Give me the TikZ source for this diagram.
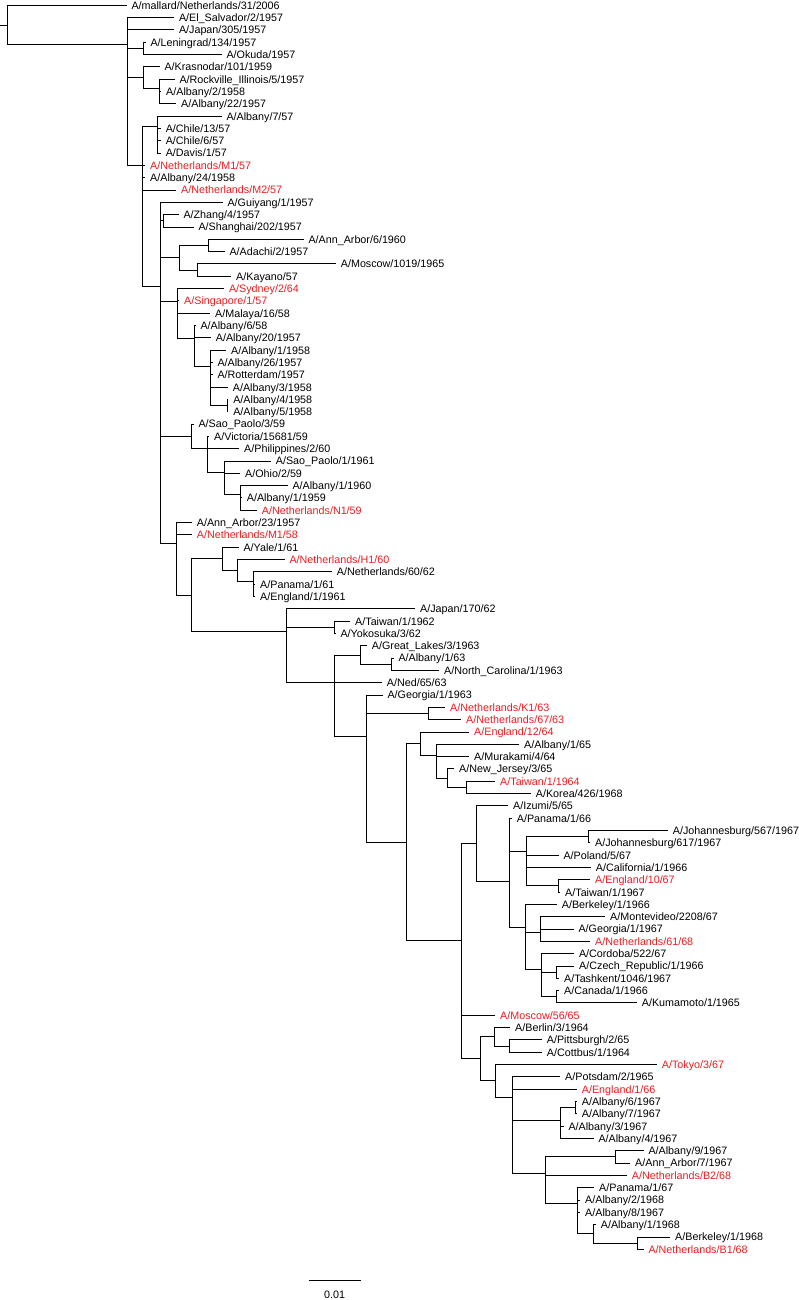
\documentclass[tikz,border=0pt]{standalone}
\usepackage{fontspec}
\setmainfont{Liberation Sans}
\definecolor{tred}{RGB}{232,30,34}
\newcommand{\tvb}[3]{\draw[br] (#1 |- #2) -- (#1 |- #3);}
\newcommand{\thi}[2]{\draw[br] (#1 |- #2) -- (#2);}
\newcommand{\thl}[2]{\draw[br] (#1 |- #2) -- (#2.west);}
\newcommand{\tpair}[3]{\tvb{#1}{#2}{#3}\thl{#1}{#2}\thl{#1}{#3}}
\begin{document}
\begin{tikzpicture}[x=1pt,y=-12.317pt,
  br/.style={line width=1pt,line cap=rect,black},
  lf/.style={anchor=west,inner xsep=5.3pt,inner ysep=0pt,text height=7.75pt,text depth=0pt,font=\fontsize{10.75}{12}\selectfont},
  rd/.style={text=tred}]
\useasboundingbox (0,0.5697) rectangle (799,106.115);
% leaves
\node[lf] (l1) at (126,1) {A/mallard/Netherlands/31/2006};
\node[lf] (l2) at (173.5,2) {A/El\_Salvador/2/1957};
\node[lf] (l3) at (173.5,3) {A/Japan/305/1957};
\node[lf] (l4) at (145,4) {A/Leningrad/134/1957};
\node[lf] (l5) at (221,5) {A/Okuda/1957};
\node[lf] (l6) at (159,6) {A/Krasnodar/101/1959};
\node[lf] (l7) at (174,7) {A/Rockville\_Illinois/5/1957};
\node[lf] (l8) at (160.7,8) {A/Albany/2/1958};
\node[lf] (l9) at (175.7,9) {A/Albany/22/1957};
\node[lf] (l10) at (221,10) {A/Albany/7/57};
\node[lf] (l11) at (160.3,11) {A/Chile/13/57};
\node[lf] (l12) at (160.3,12) {A/Chile/6/57};
\node[lf] (l13) at (160.3,13) {A/Davis/1/57};
\node[lf,rd] (l14) at (144.7,14) {A/Netherlands/M1/57};
\node[lf] (l15) at (144.7,15) {A/Albany/24/1958};
\node[lf,rd] (l16) at (175.7,16) {A/Netherlands/M2/57};
\node[lf] (l17) at (222,17) {A/Guiyang/1/1957};
\node[lf] (l18) at (178,18) {A/Zhang/4/1957};
\node[lf] (l19) at (193,19) {A/Shanghai/202/1957};
\node[lf] (l20) at (303,20) {A/Ann\_Arbor/6/1960};
\node[lf] (l21) at (224,21) {A/Adachi/2/1957};
\node[lf] (l22) at (335.4,22) {A/Moscow/1019/1965};
\node[lf] (l23) at (230.7,23) {A/Kayano/57};
\node[lf,rd] (l24) at (223.5,24) {A/Sydney/2/64};
\node[lf,rd] (l25) at (178.7,25) {A/Singapore/1/57};
\node[lf] (l26) at (209.7,26) {A/Malaya/16/58};
\node[lf] (l27) at (195,27) {A/Albany/6/58};
\node[lf] (l28) at (210.4,28) {A/Albany/20/1957};
\node[lf] (l29) at (225.7,29) {A/Albany/1/1958};
\node[lf] (l30) at (212,30) {A/Albany/26/1957};
\node[lf] (l31) at (212,31) {A/Rotterdam/1957};
\node[lf] (l32) at (227.4,32) {A/Albany/3/1958};
\node[lf] (l33) at (227.8,33) {A/Albany/4/1958};
\node[lf] (l34) at (227.8,34) {A/Albany/5/1958};
\node[lf] (l35) at (193,35) {A/Sao\_Paolo/3/59};
\node[lf] (l36) at (208.7,36) {A/Victoria/15681/59};
\node[lf] (l37) at (238.7,37) {A/Philippines/2/60};
\node[lf] (l38) at (270.4,38) {A/Sao\_Paolo/1/1961};
\node[lf] (l39) at (239.7,39) {A/Ohio/2/59};
\node[lf] (l40) at (287,40) {A/Albany/1/1960};
\node[lf] (l41) at (241.4,41) {A/Albany/1/1959};
\node[lf,rd] (l42) at (256.4,42) {A/Netherlands/N1/59};
\node[lf] (l43) at (191.4,43) {A/Ann\_Arbor/23/1957};
\node[lf,rd] (l44) at (191.4,44) {A/Netherlands/M1/58};
\node[lf] (l45) at (238,45) {A/Yale/1/61};
\node[lf,rd] (l46) at (284,46) {A/Netherlands/H1/60};
\node[lf] (l47) at (331.4,47) {A/Netherlands/60/62};
\node[lf] (l48) at (254.7,48) {A/Panama/1/61};
\node[lf] (l49) at (254.7,49) {A/England/1/1961};
\node[lf] (l50) at (414.7,50) {A/Japan/170/62};
\node[lf] (l51) at (349.7,51) {A/Taiwan/1/1962};
\node[lf] (l52) at (335,52) {A/Yokosuka/3/62};
\node[lf] (l53) at (366.4,53) {A/Great\_Lakes/3/1963};
\node[lf] (l54) at (393,54) {A/Albany/1/63};
\node[lf] (l55) at (438.7,55) {A/North\_Carolina/1/1963};
\node[lf] (l56) at (381.4,56) {A/Ned/65/63};
\node[lf] (l57) at (382,57) {A/Georgia/1/1963};
\node[lf,rd] (l58) at (444.7,58) {A/Netherlands/K1/63};
\node[lf,rd] (l59) at (460.7,59) {A/Netherlands/67/63};
\node[lf,rd] (l60) at (468.7,60) {A/England/12/64};
\node[lf] (l61) at (518.7,61) {A/Albany/1/65};
\node[lf] (l62) at (468.7,62) {A/Murakami/4/64};
\node[lf] (l63) at (453.7,63) {A/New\_Jersey/3/65};
\node[lf,rd] (l64) at (494.7,64) {A/Taiwan/1/1964};
\node[lf] (l65) at (530.4,65) {A/Korea/426/1968};
\node[lf] (l66) at (507.7,66) {A/Izumi/5/65};
\node[lf] (l67) at (511.4,67) {A/Panama/1/66};
\node[lf] (l68) at (667.4,68) {A/Johannesburg/567/1967};
\node[lf] (l69) at (589.7,69) {A/Johannesburg/617/1967};
\node[lf] (l70) at (558,70) {A/Poland/5/67};
\node[lf] (l71) at (590.4,71) {A/California/1/1966};
\node[lf,rd] (l72) at (589.7,72) {A/England/10/67};
\node[lf] (l73) at (559.7,73) {A/Taiwan/1/1967};
\node[lf] (l74) at (556.4,74) {A/Berkeley/1/1966};
\node[lf] (l75) at (604.7,75) {A/Montevideo/2208/67};
\node[lf] (l76) at (573,76) {A/Georgia/1/1967};
\node[lf,rd] (l77) at (589.7,77) {A/Netherlands/61/68};
\node[lf] (l78) at (573.5,78) {A/Cordoba/522/67};
\node[lf] (l79) at (573.7,79) {A/Czech\_Republic/1/1966};
\node[lf] (l80) at (558.7,80) {A/Tashkent/1046/1967};
\node[lf] (l81) at (558.7,81) {A/Canada/1/1966};
\node[lf] (l82) at (636.4,82) {A/Kumamoto/1/1965};
\node[lf,rd] (l83) at (494.7,83) {A/Moscow/56/65};
\node[lf] (l84) at (509.7,84) {A/Berlin/3/1964};
\node[lf] (l85) at (541.4,85) {A/Pittsburgh/2/65};
\node[lf] (l86) at (541.4,86) {A/Cottbus/1/1964};
\node[lf,rd] (l87) at (656.4,87) {A/Tokyo/3/67};
\node[lf] (l88) at (559.7,88) {A/Potsdam/2/1965};
\node[lf,rd] (l89) at (576.4,89) {A/England/1/66};
\node[lf] (l90) at (576.4,90) {A/Albany/6/1967};
\node[lf] (l91) at (576.4,91) {A/Albany/7/1967};
\node[lf] (l92) at (563,92) {A/Albany/3/1967};
\node[lf] (l93) at (593,93) {A/Albany/4/1967};
\node[lf] (l94) at (643,94) {A/Albany/9/1967};
\node[lf] (l95) at (629.7,95) {A/Ann\_Arbor/7/1967};
\node[lf,rd] (l96) at (626.4,96) {A/Netherlands/B2/68};
\node[lf] (l97) at (593.7,97) {A/Panama/1/67};
\node[lf] (l98) at (579.7,98) {A/Albany/2/1968};
\node[lf] (l99) at (579.7,99) {A/Albany/8/1967};
\node[lf] (l100) at (595.4,100) {A/Albany/1/1968};
\node[lf] (l101) at (669.7,101) {A/Berkeley/1/1968};
\node[lf,rd] (l102) at (643,102) {A/Netherlands/B1/68};
% internal nodes
\coordinate (r0) at (0,2.61);
\coordinate (R) at (7,2.61);
\coordinate (n1) at (127,4.22);
\coordinate (lenN) at (143.3,4.5);
\coordinate (krN) at (143.3,6.875);
\coordinate (rkN) at (159,7.75);
\coordinate (n2) at (142.5,14.04);
\coordinate (chN) at (157.5,10.875);
\coordinate (n3) at (160,23.81);
\coordinate (zhN) at (163,18.5);
\coordinate (n4) at (179,21.5);
\coordinate (n5) at (208.3,20.5);
\coordinate (n6) at (197.5,22.5);
\coordinate (n7) at (177,25.01);
\coordinate (n8) at (194.5,28.08);
\coordinate (n9) at (210.5,30.31);
\coordinate (n10) at (227,33.5);
\coordinate (n11) at (191.7,35.99);
\coordinate (n13) at (207.7,36.98);
\coordinate (n14) at (224,38.94);
\coordinate (n15) at (240,40.75);
\coordinate (n12) at (176,44.73);
\coordinate (n16) at (191.7,48.9);
\coordinate (n17) at (222,45.94);
\coordinate (n19) at (237.5,46.875);
\coordinate (n20) at (253.5,47.75);
\coordinate (n18) at (286,51.87);
\coordinate (n21) at (334,51.5);
\coordinate (n22) at (334,55.96);
\coordinate (n23) at (360,53.75);
\coordinate (n25) at (391,54.5);
\coordinate (n24) at (366,60.36);
\coordinate (n26) at (428.3,58.5);
\coordinate (n27) at (406.5,68.94);
\coordinate (n29) at (420,60.97);
\coordinate (n31) at (436.7,61.94);
\coordinate (n32) at (447.3,63.75);
\coordinate (n33) at (466.7,64.5);
\coordinate (n30) at (461.7,76.92);
\coordinate (n35) at (476.7,69.06);
\coordinate (n36) at (509.3,72.11);
\coordinate (n37) at (526,69.69);
\coordinate (n39) at (588.3,68.5);
\coordinate (n40) at (558.3,72.5);
\coordinate (n38) at (525,75.875);
\coordinate (n42) at (540.7,76.25);
\coordinate (n41) at (541,79.25);
\coordinate (n43) at (556.7,79.5);
\coordinate (n44) at (556.7,81.5);
\coordinate (n34) at (480,86.54);
\coordinate (n45) at (494.3,84.75);
\coordinate (n47) at (509.3,85.5);
\coordinate (n46) at (495,88.33);
\coordinate (n48) at (512.7,89.67);
\coordinate (n49) at (560,91.5);
\coordinate (n51) at (575,90.5);
\coordinate (n50) at (545.7,95.83);
\coordinate (n52) at (615,94.5);
\coordinate (n53) at (577.7,98.31);
\coordinate (n54) at (593.3,100.75);
\coordinate (n55) at (637.7,101.5);
% branches
\draw[br] (r0) -- (R);
\tvb{R}{l1}{n1}\thl{R}{l1}\thi{R}{n1}
\tvb{n1}{l2}{n2}\thl{n1}{l2}\thl{n1}{l3}\thi{n1}{lenN}\thi{n1}{krN}\thi{n1}{n2}
\tpair{lenN}{l4}{l5}
\tvb{krN}{l6}{rkN}\thl{krN}{l6}\thi{krN}{rkN}
\tvb{rkN}{l7}{l9}\thl{rkN}{l7}\thl{rkN}{l8}\thl{rkN}{l9}
\tvb{n2}{chN}{n3}\thi{n2}{chN}\thl{n2}{l14}\thl{n2}{l15}\thl{n2}{l16}\thi{n2}{n3}
\tvb{chN}{l10}{l13}\thl{chN}{l10}\thl{chN}{l11}\thl{chN}{l12}\thl{chN}{l13}
\tvb{n3}{l17}{n12}\thl{n3}{l17}\thi{n3}{zhN}\thi{n3}{n4}\thi{n3}{n7}\thi{n3}{n11}\thi{n3}{n12}
\tpair{zhN}{l18}{l19}
\tvb{n4}{n5}{n6}\thi{n4}{n5}\thi{n4}{n6}
\tpair{n5}{l20}{l21}
\tpair{n6}{l22}{l23}
\tvb{n7}{l24}{n8}\thl{n7}{l24}\thl{n7}{l25}\thl{n7}{l26}\thi{n7}{n8}
\tvb{n8}{l27}{n9}\thl{n8}{l27}\thl{n8}{l28}\thi{n8}{n9}
\tvb{n9}{l29}{n10}\thl{n9}{l29}\thl{n9}{l30}\thl{n9}{l31}\thl{n9}{l32}\thi{n9}{n10}
\tpair{n10}{l33}{l34}
\tvb{n11}{l35}{n13}\thl{n11}{l35}\thi{n11}{n13}
\tvb{n13}{l36}{n14}\thl{n13}{l36}\thl{n13}{l37}\thi{n13}{n14}
\tvb{n14}{l38}{n15}\thl{n14}{l38}\thl{n14}{l39}\thi{n14}{n15}
\tvb{n15}{l40}{l42}\thl{n15}{l40}\thl{n15}{l41}\thl{n15}{l42}
\tvb{n12}{l43}{n16}\thl{n12}{l43}\thl{n12}{l44}\thi{n12}{n16}
\tvb{n16}{n17}{n18}\thi{n16}{n17}\thi{n16}{n18}
\tvb{n17}{l45}{n19}\thl{n17}{l45}\thi{n17}{n19}
\tvb{n19}{l46}{n20}\thl{n19}{l46}\thi{n19}{n20}
\tvb{n20}{l47}{l49}\thl{n20}{l47}\thl{n20}{l48}\thl{n20}{l49}
\tvb{n18}{l50}{n22}\thl{n18}{l50}\thi{n18}{n21}\thi{n18}{n22}
\tpair{n21}{l51}{l52}
\tvb{n22}{n23}{n24}\thi{n22}{n23}\thl{n22}{l56}\thi{n22}{n24}
\tvb{n23}{l53}{n25}\thl{n23}{l53}\thi{n23}{n25}
\tpair{n25}{l54}{l55}
\tvb{n24}{l57}{n27}\thl{n24}{l57}\thi{n24}{n26}\thi{n24}{n27}
\tpair{n26}{l58}{l59}
\tvb{n27}{n29}{n30}\thi{n27}{n29}\thi{n27}{n30}
\tvb{n29}{l60}{n31}\thl{n29}{l60}\thi{n29}{n31}
\tvb{n31}{l61}{n32}\thl{n31}{l61}\thl{n31}{l62}\thi{n31}{n32}
\tvb{n32}{l63}{n33}\thl{n32}{l63}\thi{n32}{n33}
\tpair{n33}{l64}{l65}
\tvb{n30}{n35}{n34}\thi{n30}{n35}\thl{n30}{l83}\thi{n30}{n34}
\tvb{n35}{l66}{n36}\thl{n35}{l66}\thi{n35}{n36}
\tvb{n36}{l67}{n38}\thl{n36}{l67}\thi{n36}{n37}\thi{n36}{n38}
\tvb{n37}{n39}{n40}\thi{n37}{n39}\thl{n37}{l70}\thl{n37}{l71}\thi{n37}{n40}
\tpair{n39}{l68}{l69}
\tpair{n40}{l72}{l73}
\tvb{n38}{l74}{n41}\thl{n38}{l74}\thi{n38}{n42}\thi{n38}{n41}
\tvb{n42}{l75}{l77}\thl{n42}{l75}\thl{n42}{l76}\thl{n42}{l77}
\tvb{n41}{l78}{n44}\thl{n41}{l78}\thi{n41}{n43}\thi{n41}{n44}
\tpair{n43}{l79}{l80}
\tpair{n44}{l81}{l82}
\tvb{n34}{n45}{n46}\thi{n34}{n45}\thi{n34}{n46}
\tvb{n45}{l84}{n47}\thl{n45}{l84}\thi{n45}{n47}
\tpair{n47}{l85}{l86}
\tvb{n46}{l87}{n48}\thl{n46}{l87}\thi{n46}{n48}
\tvb{n48}{l88}{n50}\thl{n48}{l88}\thl{n48}{l89}\thi{n48}{n49}\thi{n48}{n50}
\tvb{n49}{n51}{l93}\thi{n49}{n51}\thl{n49}{l92}\thl{n49}{l93}
\tpair{n51}{l90}{l91}
\tvb{n50}{n52}{n53}\thi{n50}{n52}\thl{n50}{l96}\thi{n50}{n53}
\tpair{n52}{l94}{l95}
\tvb{n53}{l97}{n54}\thl{n53}{l97}\thl{n53}{l98}\thl{n53}{l99}\thi{n53}{n54}
\tvb{n54}{l100}{n55}\thl{n54}{l100}\thi{n54}{n55}
\tpair{n55}{l101}{l102}
% scale bar
\coordinate (sb1) at (309.3,104.57);
\coordinate (sb2) at (360,104.57);
\draw[br] (sb1) -- (sb2);
\node[lf,anchor=center,inner xsep=0pt] (sbl) at (334.6,105.65) {0.01};
\end{tikzpicture}
\end{document}
